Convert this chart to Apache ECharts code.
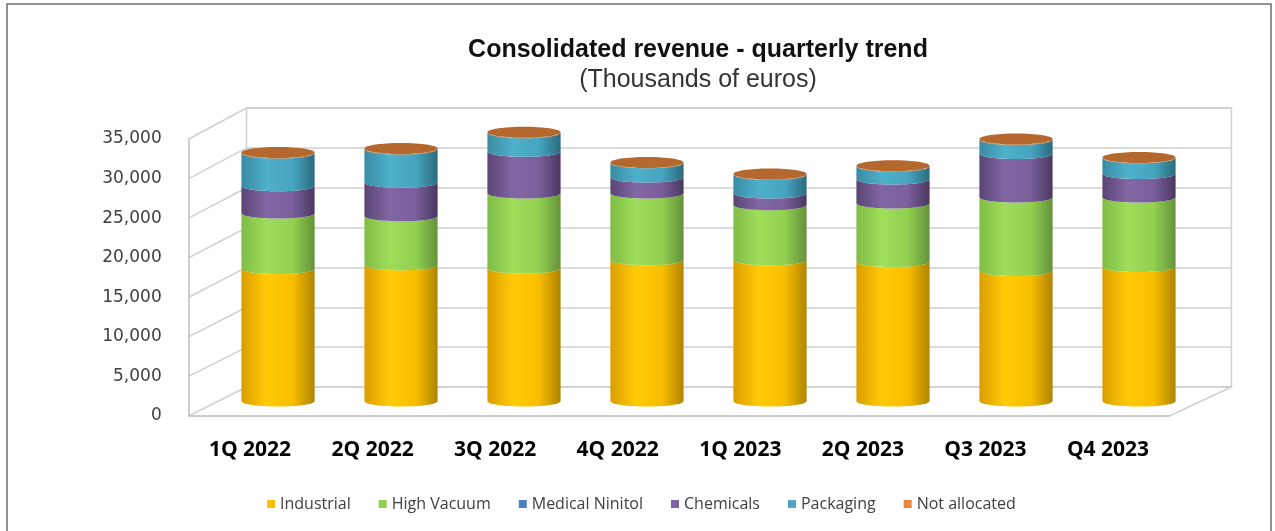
<!DOCTYPE html>
<html>
<head>
<meta charset="utf-8">
<script src="https://cdn.jsdelivr.net/npm/echarts@6/dist/echarts.min.js"></script>
<style>
html, body { margin: 0; padding: 0; background: #fff; }
#chart { width: 1275px; height: 531px; }
</style>
</head>
<body>
<div id="chart"></div>
<script>
// quarterly revenue by business unit, thousands of euros
const categories = ['1Q 2022', '2Q 2022', '3Q 2022', '4Q 2022', '1Q 2023', '2Q 2023', 'Q3 2023', 'Q4 2023'];
const industrial = [16680, 17150, 16730, 17780, 17780, 17570, 16430, 16940];
const highVacuum = [6990, 6180, 9460, 8410, 6940, 7360, 9260, 8750];
const medicalNinitol = [0, 0, 0, 0, 0, 0, 0, 0];
const chemicals = [3440, 4200, 5250, 2020, 1480, 3030, 5460, 2940];
const packaging = [4120, 4210, 2320, 1770, 2310, 1590, 1770, 1980];
const notAllocated = [60, 60, 60, 60, 60, 60, 60, 60];
const yTicks = [0, 5000, 10000, 15000, 20000, 25000, 30000, 35000];

const seriesNames = ['Industrial', 'High Vacuum', 'Medical Ninitol', 'Chemicals', 'Packaging', 'Not allocated'];
const seriesValues = [industrial, highVacuum, medicalNinitol, chemicals, packaging, notAllocated];
const legendColors = ['#FFC000', '#92D050', '#4F81BD', '#8064A2', '#4BACC6', '#E8873A'];
// left edge, highlight, body, right edge
const shades = [
    ['#DA9E00', '#FFCB08', '#F8BE00', '#B08400'],
    ['#80BC46', '#9EDE5A', '#92D050', '#65923A'],
    ['#3E6797', '#5A8CC6', '#4F81BD', '#335A88'],
    ['#5A4574', '#8267A5', '#7A5F9C', '#4A3860'],
    ['#3A8BA2', '#4EB0CB', '#46A5C0', '#2B6B7E'],
    ['#9C5624', '#BE7036', '#B5682E', '#8E4D20']
];
const capColor = '#B5682E';

const fmt = v => String(v).replace(/\B(?=(\d{3})+(?!\d))/g, ',');

// stack the segments
const stacked = [];
let running = categories.map(() => 0);
seriesValues.forEach(vals => {
    stacked.push(vals.map((v, i) => [i, running[i], running[i] + v]));
    running = running.map((r, i) => r + vals[i]);
});

const RY = 5.5;
const K = RY * 4 / 3;

function cylinder(idx, isTop) {
    return (params, api) => {
        const cat = api.value(0);
        const base = api.value(1);
        const top = api.value(2);
        if (top - base <= 0) return null;
        const pb = api.coord([cat, base]);
        const pt = api.coord([cat, top]);
        const w = api.size([1, 0])[0] * 0.595;
        const xl = pb[0] - w / 2;
        const xr = pb[0] + w / 2;
        const yb = pb[1];
        const yt = pt[1];
        const s = shades[idx];
        const body = 'M' + xl + ',' + yt +
            ' C' + xl + ',' + (yt + K) + ' ' + xr + ',' + (yt + K) + ' ' + xr + ',' + yt +
            ' L' + xr + ',' + yb +
            ' C' + xr + ',' + (yb + K) + ' ' + xl + ',' + (yb + K) + ' ' + xl + ',' + yb + ' Z';
        const children = [{
            type: 'path',
            shape: { pathData: body },
            style: {
                fill: new echarts.graphic.LinearGradient(0, 0, 1, 0, [
                    { offset: 0, color: s[0] },
                    { offset: 0.35, color: s[1] },
                    { offset: 0.7, color: s[2] },
                    { offset: 1, color: s[3] }
                ])
            }
        }];
        if (isTop) {
            const cx = pb[0];
            const rx = w / 2;
            const kx = rx * 0.5523;
            const ky = RY * 0.5523;
            const cap = 'M' + (cx - rx) + ',' + yt +
                ' C' + (cx - rx) + ',' + (yt - ky) + ' ' + (cx - kx) + ',' + (yt - RY) + ' ' + cx + ',' + (yt - RY) +
                ' C' + (cx + kx) + ',' + (yt - RY) + ' ' + (cx + rx) + ',' + (yt - ky) + ' ' + (cx + rx) + ',' + yt +
                ' C' + (cx + rx) + ',' + (yt + ky) + ' ' + (cx + kx) + ',' + (yt + RY) + ' ' + cx + ',' + (yt + RY) +
                ' C' + (cx - kx) + ',' + (yt + RY) + ' ' + (cx - rx) + ',' + (yt + ky) + ' ' + (cx - rx) + ',' + yt + ' Z';
            children.push({
                type: 'path',
                shape: { pathData: cap },
                style: { fill: capColor }
            });
        }
        return { type: 'group', children: children };
    };
}

const chart = echarts.init(document.getElementById('chart'));

const gridLine = '#D0D0D0';

const option = {
    animation: false,
    backgroundColor: '#fff',
    title: {
        text: 'Consolidated revenue - quarterly trend',
        subtext: '(Thousands of euros)',
        left: 693,
        top: 33,
        textAlign: 'center',
        itemGap: 5,
        textStyle: { fontFamily: 'Liberation Sans', fontWeight: 'bold', fontSize: 25, color: '#111' },
        subtextStyle: { fontFamily: 'Liberation Sans', fontSize: 25, color: '#333' }
    },
    legend: {
        data: seriesNames,
        left: 262,
        top: 491,
        icon: 'rect',
        itemWidth: 8,
        itemHeight: 8,
        itemGap: 28,
        textStyle: { fontFamily: 'Open Sans', fontSize: 16, color: '#404040' }
    },
    grid: [
        // front plane: labels, left edge and floor front edge
        { left: 188.7, right: 105.7, top: 139, bottom: 115 },
        // back wall
        { left: 246.5, right: 43.5, top: 108, bottom: 144, show: true, borderColor: gridLine, borderWidth: 1.5 },
        // bars at mid depth
        { left: 216.5, right: 74.5, top: 123, bottom: 130 }
    ],
    xAxis: [
        {
            gridIndex: 0, type: 'category', data: categories,
            axisLine: { lineStyle: { color: '#BFBFBF', width: 1.5 } },
            axisTick: { show: false },
            axisLabel: { margin: 24, fontFamily: 'Open Sans', fontWeight: 'bold', fontSize: 21, color: '#000' }
        },
        { gridIndex: 1, type: 'category', data: categories, show: false },
        { gridIndex: 2, type: 'category', data: categories, show: false }
    ],
    yAxis: [
        {
            gridIndex: 0, type: 'value', min: 0, max: 35000, interval: 5000,
            axisLine: { show: true, lineStyle: { color: '#BFBFBF', width: 1.5 } },
            axisTick: { show: false },
            splitLine: { show: false },
            axisLabel: { margin: 27, fontFamily: 'DejaVu Sans', fontSize: 17, color: '#404040', formatter: fmt }
        },
        {
            gridIndex: 1, type: 'value', min: 0, max: 35000, interval: 5000,
            axisLine: { show: false }, axisTick: { show: false }, axisLabel: { show: false },
            splitLine: { lineStyle: { color: gridLine, width: 1.5 } }
        },
        { gridIndex: 2, type: 'value', min: 0, max: 35000, interval: 5000, show: false }
    ],
    series: seriesNames.map((name, idx) => ({
        name: name,
        type: 'custom',
        xAxisIndex: 2,
        yAxisIndex: 2,
        z: 5,
        itemStyle: { color: legendColors[idx] },
        encode: { x: 0, y: [1, 2] },
        renderItem: cylinder(idx, idx === seriesNames.length - 1),
        data: stacked[idx]
    }))
};

chart.setOption(option);

// side wall and floor diagonals, placed through the two value axes
const frontLeft = 188.7, backLeft = 246.5, frontRight = 1275 - 105.7, backRight = 1275 - 43.5;
const graphics = yTicks.map(v => {
    const yf = chart.convertToPixel({ yAxisIndex: 0 }, v);
    const yb = chart.convertToPixel({ yAxisIndex: 1 }, v);
    return {
        type: 'line', z: 0,
        shape: { x1: frontLeft, y1: yf, x2: backLeft, y2: yb },
        style: { stroke: gridLine, lineWidth: 1.5 }
    };
});
graphics.push({
    type: 'line', z: 0,
    shape: {
        x1: frontRight, y1: chart.convertToPixel({ yAxisIndex: 0 }, 0),
        x2: backRight, y2: chart.convertToPixel({ yAxisIndex: 1 }, 0)
    },
    style: { stroke: gridLine, lineWidth: 1.5 }
});
// outer chart-area border
graphics.push({
    type: 'rect', z: 0,
    shape: { x: 7, y: 4, width: 1264, height: 540 },
    style: { fill: 'none', stroke: '#6E6E6E', lineWidth: 1.5 }
});
chart.setOption({ graphic: graphics });
</script>
</body>
</html>
